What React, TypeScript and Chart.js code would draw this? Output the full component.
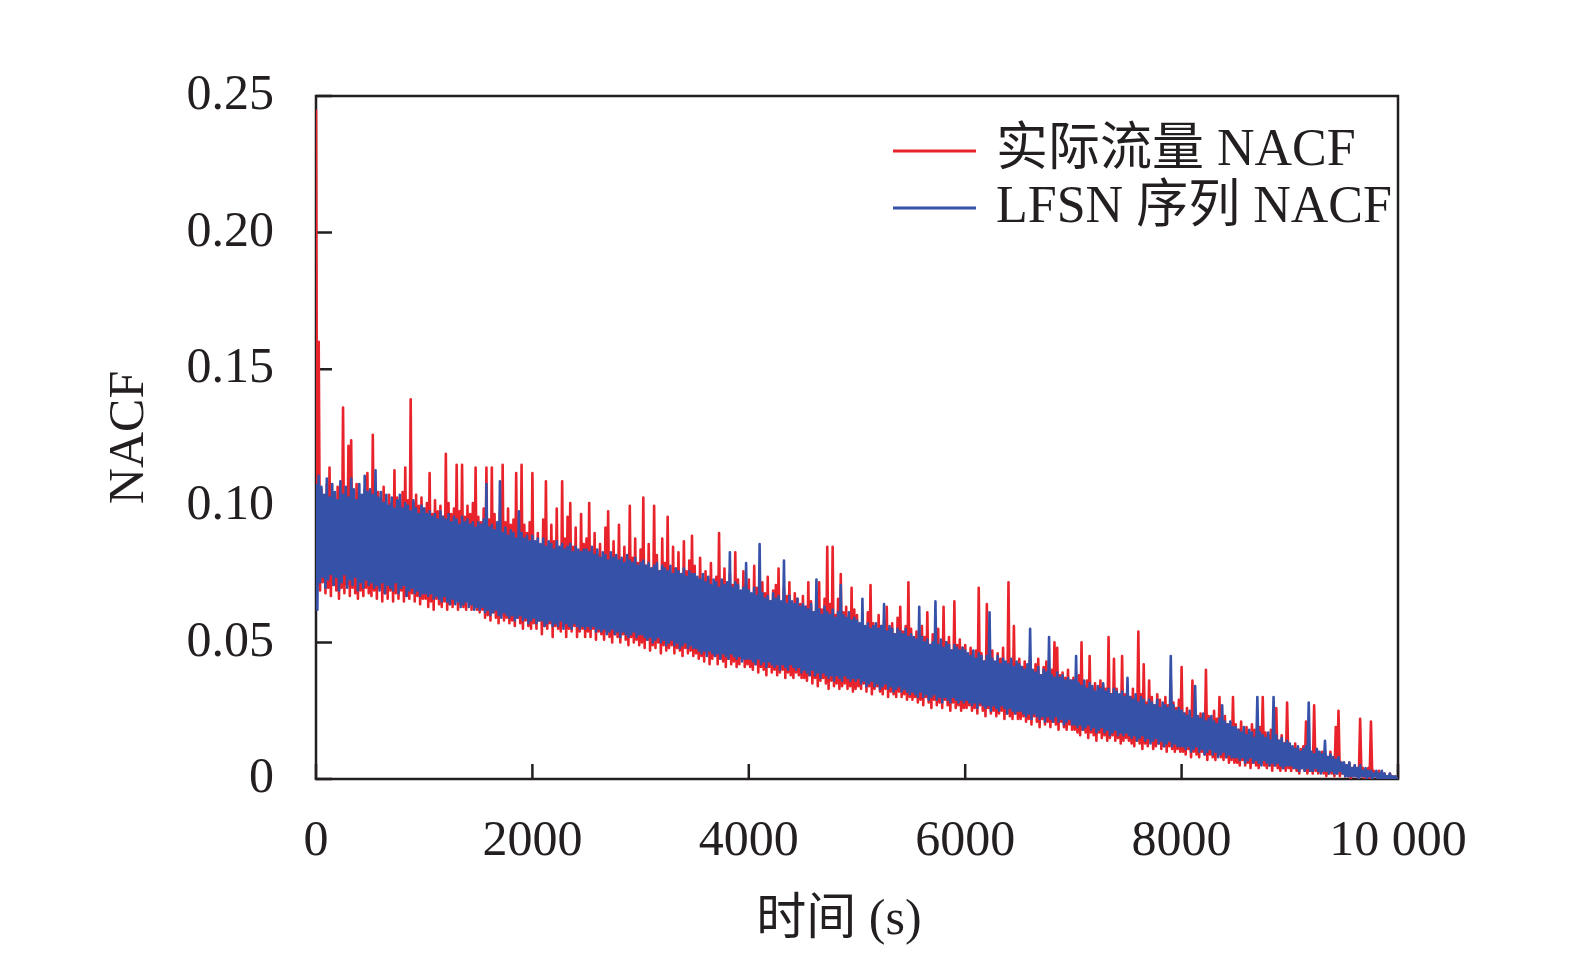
import React, { useEffect, useRef } from 'react';
import { Chart, registerables } from 'chart.js';

Chart.register(...registerables);

// one sample every 12.5 s, values in thousandths of NACF, one row per 500 s
const STEP = 12.5;

const actualNacf = [
  245, 71, 160, 69, 106, 72, 103, 68, 108, 70, 114, 67, 104, 71, 101, 69, 107, 66, 103, 70, 136, 68, 105, 71, 122, 67, 124, 70, 102, 68, 108, 66, 104, 69, 101, 67, 106, 70, 112, 68,
  103, 67, 126, 69, 101, 66, 105, 70, 102, 65, 107, 68, 100, 66, 104, 69, 101, 65, 113, 68, 103, 66, 100, 69, 105, 65, 114, 67, 102, 66, 139, 68, 101, 65, 104, 67, 100, 64, 103, 66,
  99, 66, 101, 63, 112, 65, 97, 62, 102, 66, 98, 64, 100, 63, 96, 65, 119, 62, 101, 64, 97, 63, 99, 66, 115, 62, 98, 64, 115, 63, 96, 62, 100, 65, 97, 62, 101, 63, 114, 62,
  96, 61, 94, 62, 99, 59, 114, 60, 95, 58, 114, 61, 97, 59, 93, 57, 98, 60, 115, 58, 94, 59, 99, 57, 93, 58, 95, 56, 112, 59, 91, 57, 115, 55, 93, 58, 90, 56, 94, 55,
  112, 57, 86, 55, 90, 58, 84, 53, 95, 56, 109, 55, 85, 57, 93, 52, 87, 56, 99, 55, 84, 54, 109, 56, 88, 52, 96, 55, 101, 54, 85, 56, 92, 52, 83, 54, 97, 55, 86, 52,
  88, 54, 101, 52, 83, 55, 90, 51, 82, 54, 86, 53, 80, 51, 92, 54, 98, 52, 81, 50, 87, 53, 79, 52, 93, 50, 80, 53, 85, 51, 78, 49, 100, 52, 81, 50, 88, 51, 79, 49,
  84, 50, 103, 48, 78, 51, 86, 47, 77, 49, 100, 48, 82, 50, 76, 46, 88, 49, 79, 47, 96, 48, 75, 49, 85, 46, 77, 48, 83, 47, 74, 45, 87, 48, 76, 46, 80, 47, 89, 45,
  78, 46, 72, 44, 81, 45, 71, 43, 76, 46, 73, 42, 79, 44, 70, 45, 74, 42, 90, 44, 72, 43, 77, 41, 69, 44, 75, 42, 71, 43, 83, 41, 73, 42, 68, 44, 76, 41, 71, 42,
  73, 41, 67, 40, 78, 42, 70, 39, 66, 41, 72, 40, 68, 38, 74, 41, 65, 39, 69, 40, 71, 38, 77, 39, 64, 40, 70, 37, 67, 39, 72, 38, 63, 37, 68, 39, 66, 38, 64, 37,
  67, 37, 63, 36, 72, 38, 65, 35, 61, 37, 68, 34, 72, 36, 62, 37, 66, 35, 85, 33, 64, 36, 85, 34, 60, 35, 66, 33, 75, 34, 61, 35, 63, 33, 59, 34, 70, 32, 62, 33,
  60, 34, 56, 33, 59, 35, 55, 32, 61, 34, 71, 31, 57, 33, 54, 34, 60, 32, 56, 31, 58, 33, 63, 30, 55, 32, 57, 31, 53, 30, 59, 32, 63, 30, 54, 31, 56, 29, 72, 30,
  55, 29, 51, 30, 54, 28, 50, 29, 56, 27, 52, 30, 61, 28, 49, 26, 53, 29, 51, 27, 55, 28, 48, 26, 63, 29, 50, 27, 52, 25, 47, 28, 65, 26, 49, 27, 51, 25, 48, 26,
  49, 26, 45, 27, 48, 25, 44, 26, 47, 24, 70, 27, 46, 25, 43, 23, 64, 26, 45, 24, 47, 25, 42, 23, 46, 24, 44, 25, 48, 22, 41, 24, 72, 23, 43, 22, 56, 24, 42, 22,
  44, 22, 41, 23, 43, 21, 40, 22, 45, 20, 39, 23, 42, 21, 44, 19, 38, 22, 41, 20, 43, 21, 39, 19, 40, 21, 50, 20, 48, 18, 38, 21, 39, 19, 37, 18, 40, 20, 36, 18,
  37, 18, 35, 17, 38, 16, 50, 18, 34, 17, 36, 15, 45, 17, 33, 16, 35, 14, 32, 17, 36, 15, 34, 16, 33, 14, 52, 15, 31, 16, 44, 14, 33, 15, 30, 13, 45, 14, 31, 15,
  32, 14, 30, 13, 33, 12, 29, 14, 54, 13, 31, 11, 42, 13, 28, 12, 36, 14, 30, 11, 27, 12, 31, 13, 29, 11, 26, 12, 30, 10, 27, 12, 36, 11, 28, 10, 26, 11, 29, 10,
  41, 10, 24, 9, 26, 11, 23, 8, 36, 10, 25, 9, 22, 8, 24, 10, 21, 9, 40, 7, 23, 9, 20, 8, 25, 7, 22, 9, 30, 8, 21, 7, 23, 8, 20, 6, 19, 7, 30, 6,
  20, 6, 18, 5, 21, 7, 17, 5, 19, 6, 16, 4, 20, 6, 18, 5, 15, 4, 19, 6, 30, 5, 17, 4, 16, 5, 18, 3, 15, 5, 26, 4, 14, 3, 16, 4, 13, 3, 28, 4,
  12, 3, 11, 4, 13, 3, 10, 2, 11, 4, 12, 3, 21, 2, 10, 3, 9, 2, 27, 3, 11, 2, 8, 3, 10, 2, 9, 1, 8, 2, 10, 2, 7, 1, 19, 2, 25, 1, 6, 2,
  6, 1, 5, 1, 6, 0, 4, 1, 5, 1, 3, 0, 22, 1, 4, 0, 3, 1, 4, 0, 21, 0, 3, 1, 2, 0, 3, 0, 2, 0, 2, 0, 1, 0, 2, 0, 1, 0, 1, 0,
  0,
];

const lfsnNacf = [
  108, 62, 111, 72, 107, 74, 104, 70, 110, 73, 103, 75, 108, 71, 105, 74, 102, 69, 109, 72, 104, 75, 107, 70, 103, 73, 110, 71, 106, 74, 102, 69, 108, 72, 104, 70, 111, 73, 105, 71,
  106, 72, 104, 70, 113, 71, 103, 69, 105, 72, 101, 68, 104, 71, 100, 70, 103, 69, 99, 72, 102, 68, 104, 70, 99, 71, 101, 67, 100, 69, 98, 70, 102, 68, 99, 69, 97, 67, 100, 68,
  99, 68, 97, 67, 98, 68, 96, 66, 97, 67, 95, 66, 98, 65, 96, 67, 95, 65, 97, 64, 94, 66, 96, 64, 95, 65, 93, 63, 96, 64, 94, 65, 95, 63, 93, 64, 94, 62, 92, 63,
  94, 62, 93, 63, 95, 61, 108, 62, 92, 60, 93, 61, 91, 62, 94, 60, 109, 59, 90, 61, 92, 60, 89, 59, 91, 60, 90, 58, 88, 59, 98, 60, 90, 58, 88, 59, 89, 57, 87, 58,
  89, 59, 87, 57, 88, 58, 86, 58, 88, 56, 85, 57, 87, 58, 86, 56, 84, 57, 87, 56, 85, 58, 86, 55, 84, 57, 85, 56, 86, 55, 83, 57, 85, 56, 84, 55, 83, 56, 84, 55,
  84, 56, 83, 55, 85, 56, 82, 54, 84, 55, 81, 54, 83, 55, 82, 53, 80, 54, 83, 55, 81, 53, 82, 54, 80, 52, 81, 54, 79, 53, 82, 52, 80, 53, 79, 54, 81, 52, 78, 53,
  79, 53, 80, 52, 78, 51, 79, 52, 77, 50, 78, 51, 79, 52, 76, 50, 78, 51, 77, 49, 76, 50, 78, 51, 75, 49, 77, 50, 76, 48, 75, 49, 77, 50, 74, 48, 76, 49, 75, 48,
  75, 48, 74, 47, 73, 46, 75, 47, 72, 45, 74, 47, 71, 46, 73, 45, 72, 46, 70, 44, 73, 46, 71, 45, 72, 44, 83, 46, 70, 45, 72, 44, 71, 45, 69, 43, 70, 44, 79, 44,
  69, 44, 68, 43, 70, 42, 67, 44, 86, 42, 68, 43, 66, 41, 67, 43, 65, 42, 68, 41, 66, 42, 67, 40, 65, 42, 80, 41, 64, 40, 67, 42, 65, 41, 64, 40, 66, 41, 63, 39,
  64, 40, 63, 39, 62, 38, 64, 40, 61, 38, 73, 39, 62, 37, 60, 39, 63, 38, 61, 37, 60, 38, 62, 36, 59, 38, 61, 37, 71, 36, 60, 38, 59, 37, 61, 36, 58, 37, 59, 36,
  58, 37, 57, 35, 66, 36, 56, 34, 57, 35, 55, 36, 56, 34, 57, 35, 55, 33, 56, 34, 64, 35, 54, 33, 56, 34, 55, 32, 53, 33, 55, 34, 54, 32, 53, 33, 55, 32, 52, 31,
  53, 32, 52, 31, 51, 30, 63, 32, 52, 30, 50, 31, 51, 29, 49, 30, 50, 31, 65, 29, 49, 30, 51, 28, 48, 30, 50, 29, 49, 28, 47, 30, 49, 29, 48, 28, 47, 29, 48, 28,
  47, 29, 46, 28, 45, 27, 47, 28, 44, 26, 46, 28, 45, 27, 43, 26, 45, 27, 61, 25, 44, 27, 43, 26, 45, 25, 42, 27, 44, 26, 43, 24, 42, 26, 44, 25, 41, 24, 43, 25,
  42, 25, 41, 24, 40, 23, 42, 24, 55, 22, 40, 24, 39, 23, 41, 22, 38, 23, 40, 21, 39, 23, 52, 22, 38, 21, 37, 23, 39, 21, 37, 22, 38, 20, 36, 21, 37, 22, 36, 20,
  36, 20, 45, 19, 35, 20, 34, 18, 36, 19, 33, 20, 35, 18, 34, 19, 32, 17, 34, 18, 33, 19, 35, 17, 32, 18, 33, 16, 31, 17, 33, 18, 32, 16, 31, 17, 32, 16, 30, 17,
  37, 16, 30, 15, 29, 16, 31, 14, 28, 15, 30, 16, 29, 14, 27, 15, 29, 13, 28, 14, 27, 15, 29, 13, 26, 14, 28, 12, 27, 13, 26, 14, 45, 12, 27, 13, 25, 12, 26, 12,
  25, 12, 24, 11, 23, 12, 25, 10, 22, 11, 34, 12, 23, 10, 22, 11, 24, 9, 21, 10, 22, 11, 23, 9, 21, 10, 20, 8, 22, 9, 27, 10, 21, 8, 20, 9, 21, 8, 19, 8,
  19, 8, 18, 7, 17, 8, 19, 6, 16, 7, 18, 8, 17, 6, 15, 7, 30, 6, 17, 5, 16, 7, 15, 6, 17, 5, 14, 6, 30, 5, 16, 6, 14, 5, 15, 4, 13, 5, 14, 5,
  13, 5, 12, 4, 11, 4, 12, 3, 10, 4, 11, 3, 12, 4, 28, 3, 10, 3, 9, 4, 11, 3, 10, 2, 9, 3, 14, 3, 8, 2, 9, 3, 8, 2, 7, 2, 8, 3, 6, 2,
  6, 1, 5, 1, 6, 1, 4, 1, 5, 1, 4, 0, 5, 1, 3, 1, 4, 0, 3, 1, 3, 0, 2, 1, 3, 0, 2, 0, 3, 0, 2, 0, 1, 0, 2, 0, 1, 0, 1, 0,
  0,
];

const seriesNames = ['实际流量 NACF', 'LFSN 序列 NACF'];
const seriesColors = ['#e9232b', '#3651a8'];

const xTicks = [0, 2000, 4000, 6000, 8000, 10000];
const xTickLabels = ['0', '2000', '4000', '6000', '8000', '10 000'];
const yTicks = [0, 0.05, 0.1, 0.15, 0.2, 0.25];
const yTickLabels = ['0', '0.05', '0.10', '0.15', '0.20', '0.25'];
const xTitle = '时间 (s)';
const yTitle = 'NACF';

const INK = '#231f20';
const FONT = '"Liberation Serif", "Noto Sans CJK SC", serif';

const toPoints = (vals: number[]) => vals.map((v, i) => ({ x: i * STEP, y: v / 1000 }));

// box round the plot, inward ticks, x title and the legend
const framePlugin = {
  id: 'frame',
  beforeDatasetsDraw(chart: any) {
    const { ctx, chartArea: a, scales } = chart;
    ctx.save();
    ctx.strokeStyle = INK;
    ctx.lineWidth = 2.5;
    ctx.strokeRect(a.left, a.top, a.right - a.left, a.bottom - a.top);
    ctx.beginPath();
    xTicks.forEach((v) => {
      const px = scales.x.getPixelForValue(v);
      ctx.moveTo(px, a.bottom);
      ctx.lineTo(px, a.bottom - 15);
    });
    yTicks.forEach((v) => {
      const py = scales.y.getPixelForValue(v);
      ctx.moveTo(a.left, py);
      ctx.lineTo(a.left + 16, py);
    });
    ctx.stroke();
    ctx.restore();
  },
  afterDraw(chart: any) {
    const { ctx } = chart;
    ctx.save();
    ctx.fillStyle = INK;
    ctx.textBaseline = 'middle';
    ctx.font = `50px ${FONT}`;
    ctx.textAlign = 'center';
    ctx.fillText(xTitle, 839, 921);
    ctx.textAlign = 'left';
    ctx.font = `52px ${FONT}`;
    chart.data.datasets.forEach((ds: any, i: number) => {
      const y = 151 + i * 57;
      ctx.strokeStyle = ds.borderColor;
      ctx.lineWidth = 3;
      ctx.beginPath();
      ctx.moveTo(893, y);
      ctx.lineTo(976, y);
      ctx.stroke();
      ctx.fillText(ds.label, 996, y);
    });
    ctx.restore();
  },
};

const App: React.FC = () => {
  const canvasRef = useRef<HTMLCanvasElement>(null);

  useEffect(() => {
    const chart = new Chart(canvasRef.current as HTMLCanvasElement, {
      type: 'line',
      data: {
        datasets: [
          {
            label: seriesNames[0],
            data: toPoints(actualNacf),
            borderColor: seriesColors[0],
            borderWidth: 2.6,
            borderJoinStyle: 'round',
            pointRadius: 0,
            order: 1,
          },
          {
            label: seriesNames[1],
            data: toPoints(lfsnNacf),
            borderColor: seriesColors[1],
            borderWidth: 2.6,
            borderJoinStyle: 'round',
            pointRadius: 0,
            order: 0,
          },
        ],
      },
      options: {
        animation: false,
        responsive: false,
        devicePixelRatio: 1,
        parsing: false,
        normalized: true,
        layout: { padding: { top: 96, right: 177, left: 0, bottom: 0 } },
        plugins: { legend: { display: false }, tooltip: { enabled: false } },
        scales: {
          x: {
            type: 'linear',
            min: 0,
            max: 10000,
            afterFit: (s: any) => { s.height = 182; },
            afterBuildTicks: (s: any) => { s.ticks = xTicks.map((value) => ({ value })); },
            grid: { display: false, drawTicks: false },
            border: { display: false },
            ticks: {
              padding: 33,
              color: INK,
              font: { family: FONT, size: 50 },
              maxRotation: 0,
              callback: (v: any) => xTickLabels[xTicks.indexOf(Number(v))],
            },
          },
          y: {
            type: 'linear',
            min: 0,
            max: 0.25,
            afterFit: (s: any) => { s.width = 316; },
            afterBuildTicks: (s: any) => { s.ticks = yTicks.map((value) => ({ value })); },
            grid: { display: false, drawTicks: false },
            border: { display: false },
            ticks: {
              padding: 42,
              color: INK,
              font: { family: FONT, size: 50 },
              callback: (v: any) => yTickLabels[yTicks.findIndex((t) => Math.abs(t - Number(v)) < 1e-9)],
            },
            title: {
              display: true,
              text: yTitle,
              color: INK,
              font: { family: FONT, size: 50 },
              padding: { top: 100, bottom: 0 },
            },
          },
        },
      },
      plugins: [framePlugin],
    });
    return () => {
      chart.destroy();
    };
  }, []);

  return (
    <div style={{ position: 'fixed', left: 0, top: 0, width: 1575, height: 961, overflow: 'hidden', background: '#fff' }}>
      <canvas ref={canvasRef} width={1575} height={961} style={{ display: 'block' }} />
    </div>
  );
};

export default App;
